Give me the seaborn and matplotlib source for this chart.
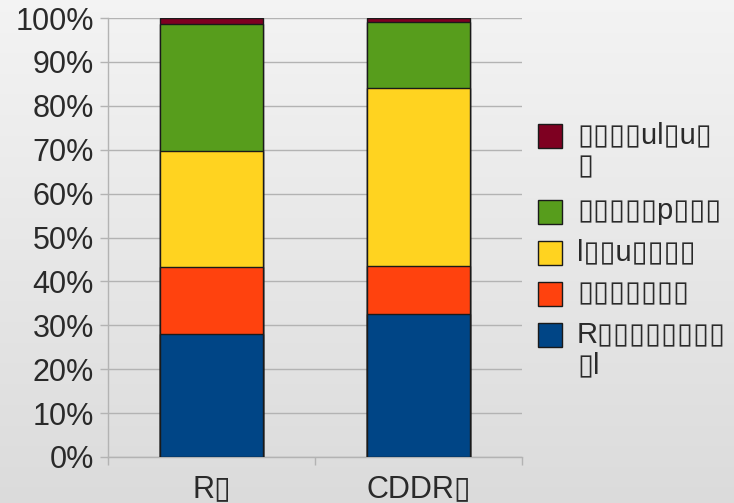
import numpy as np
import pandas as pd
import matplotlib
matplotlib.use("Agg")
import matplotlib.pyplot as plt
from matplotlib.patches import Rectangle
import seaborn as sns

# Categories and stacked shares (percent), bottom layer first
B = "\u25af"
categories = ["R" + B, "CDDR" + B]
series_names = [
    "R" + B * 8 + "\n" + B + "l",
    B * 7,
    "l" + B * 2 + "u" + B * 4,
    B * 5 + "p" + B * 3,
    B * 4 + "ul" + B + "u" + B + "\n" + B,
]
layer_1 = [28.0, 32.6]
layer_2 = [15.3, 10.9]
layer_3 = [26.4, 40.6]
layer_4 = [28.9, 15.0]
layer_5 = [1.4, 0.9]
colors = ["#004586", "#ff420e", "#ffd320", "#579d1c", "#7e0021"]
tick_values = [0, 10, 20, 30, 40, 50, 60, 70, 80, 90, 100]
tick_labels = [f"{v}%" for v in tick_values]

sns.set_theme(style="white")
plt.rcParams["font.family"] = ["Liberation Sans", "DejaVu Sans"]

layers = [layer_1, layer_2, layer_3, layer_4, layer_5]
df = pd.DataFrame({"category": categories})
for name, vals in zip(series_names, layers):
    df[name] = vals

W, H = 734, 503
fig = plt.figure(figsize=(W / 100, H / 100), dpi=100)

# soft vertical gradient behind everything
bg = fig.add_axes([0, 0, 1, 1], zorder=-10)
grad = np.linspace(0.955, 0.86, 256).reshape(-1, 1)
bg.imshow(np.dstack([grad, grad, grad]), aspect="auto", extent=[0, 1, 0, 1])
bg.set_axis_off()

ax = fig.add_axes([108 / W, 1 - 457 / H, (522 - 108) / W, (457 - 18) / H])
ax.set_facecolor("none")

# cumulative heights, drawn from the tallest down so each layer overlays the last
cum = np.cumsum(np.array(layers), axis=0)
for i in range(len(layers) - 1, -1, -1):
    sns.barplot(x=df["category"], y=cum[i], color=colors[i], width=0.5,
                edgecolor="#1a1a1a", linewidth=1.0, saturation=1, ax=ax, zorder=3)

ax.set_ylim(0, 100)
ax.set_xlim(-0.5, 1.5)
ax.set_yticks(tick_values)
ax.set_yticklabels(tick_labels)
ax.set_xlabel("")
ax.set_ylabel("")
ax.yaxis.grid(True, color="#b3b3b3", linewidth=1.0, zorder=0)
ax.set_axisbelow(True)

ax.tick_params(axis="y", length=6, width=1, color="#b3b3b3", labelsize=22,
               labelcolor="#2a2a2a", pad=4, left=True)
ax.tick_params(axis="x", which="major", length=0, labelsize=22,
               labelcolor="#2a2a2a", pad=12)
ax.set_xticks([-0.5, 0.5, 1.5], minor=True)
ax.tick_params(axis="x", which="minor", length=6, width=1, color="#b3b3b3", bottom=True)

for side in ["top", "right"]:
    ax.spines[side].set_visible(False)
for side in ["left", "bottom"]:
    ax.spines[side].set_color("#b3b3b3")
    ax.spines[side].set_linewidth(1.0)

# legend: swatch aligned with the first line of each (possibly wrapped) label
y_px = 124.0
for i in range(len(layers) - 1, -1, -1):
    label = series_names[i]
    fig.add_artist(Rectangle((538 / W, 1 - (y_px + 24) / H), 24 / W, 24 / H,
                             transform=fig.transFigure, facecolor=colors[i],
                             edgecolor="#1a1a1a", linewidth=1.0))
    fig.text(577 / W, 1 - (y_px - 3) / H, label, fontsize=21, color="#2a2a2a",
             va="top", ha="left", linespacing=1.15)
    n_lines = label.count("\n") + 1
    y_px += 41 + 35 * (n_lines - 1)

fig.savefig("out.png", dpi=100)
